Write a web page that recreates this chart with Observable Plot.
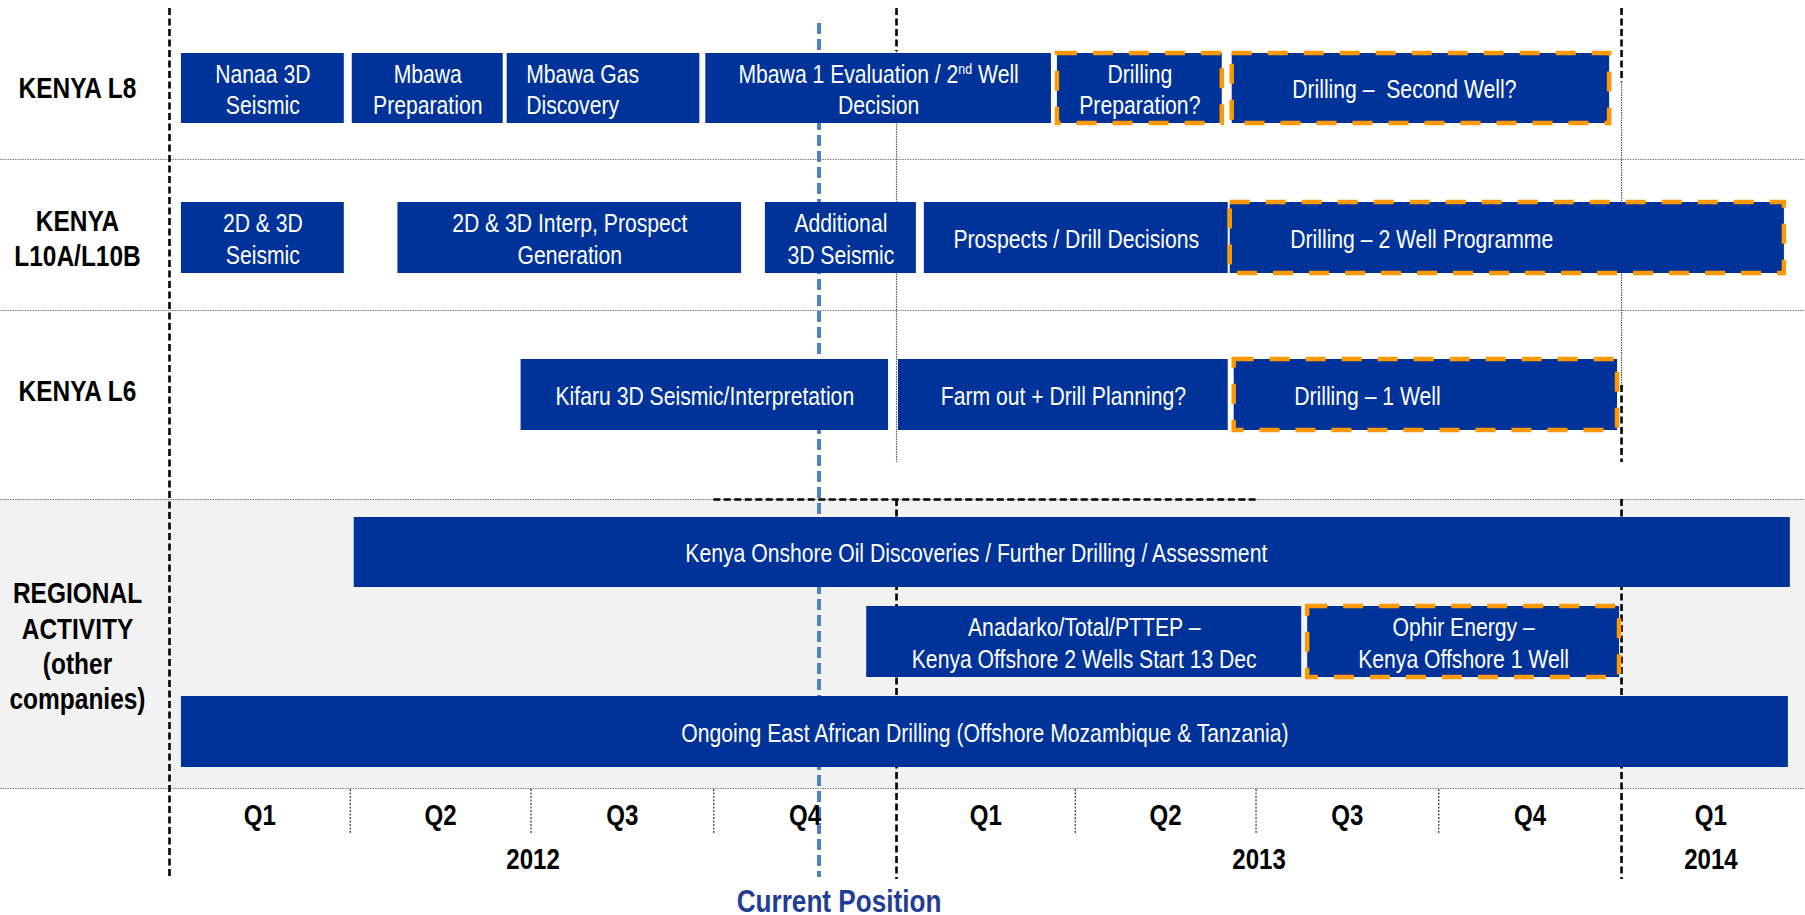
<!DOCTYPE html>
<html><head><meta charset="utf-8">
<script src="https://cdn.jsdelivr.net/npm/d3@7"></script>
<script src="https://cdn.jsdelivr.net/npm/@observablehq/plot@0.6"></script>
<style>
body{margin:0;background:#fff;}
#chart svg{display:block}
#chart svg text{white-space:pre}
</style>
</head><body><div id="chart"></div>
<script>
const FONT = "'Liberation Sans', Arial, sans-serif";
const NARROW = 0.83; // horizontal compression to mimic Arial Narrow

// ---------- data ----------
const rowLabels = ["KENYA L8", "KENYA\nL10A/L10B", "KENYA L6", "REGIONAL\nACTIVITY\n(other\ncompanies)"];
const rowKeys = ["L8", "L10", "L6", "REG"];

// [lane, label, start, end, tentative]
const activities = [
  ["L8", "Nanaa 3D\nSeismic", "2012-01-07", "2012-03-29", false],
  ["L8", "Mbawa\nPreparation", "2012-04-02", "2012-06-17", false],
  ["L8", "Mbawa Gas\nDiscovery", "2012-06-19", "2012-09-24", false],
  ["L8", "Mbawa 1 Evaluation / 2nd Well\nDecision", "2012-09-27", "2013-03-20", false],
  ["L8", "Drilling\nPreparation?", "2013-03-23", "2013-06-14", true],
  ["L8", "Drilling –  Second Well?", "2013-06-19", "2013-12-26", true],
  ["L10", "2D & 3D\nSeismic", "2012-01-07", "2012-03-29", false],
  ["L10", "2D & 3D Interp, Prospect\nGeneration", "2012-04-25", "2012-10-15", false],
  ["L10", "Additional\n3D Seismic", "2012-10-27", "2013-01-11", false],
  ["L10", "Prospects / Drill Decisions", "2013-01-15", "2013-06-17", false],
  ["L10", "Drilling – 2 Well Programme", "2013-06-18", "2014-03-24", true],
  ["L6", "Kifaru 3D Seismic/Interpretation", "2012-06-26", "2012-12-28", false],
  ["L6", "Farm out + Drill Planning?", "2013-01-02", "2013-06-17", false],
  ["L6", "Drilling – 1 Well", "2013-06-20", "2013-12-30", true],
  ["R1", "Kenya Onshore Oil Discoveries / Further Drilling / Assessment", "2012-04-03", "2014-03-27", false],
  ["R2", "Anadarko/Total/PTTEP –\nKenya Offshore 2 Wells Start 13 Dec", "2012-12-17", "2013-07-24", false],
  ["R2", "Ophir Energy –\nKenya Offshore 1 Well", "2013-07-27", "2013-12-31", true],
  ["R3", "Ongoing East African Drilling (Offshore Mozambique & Tanzania)", "2012-01-07", "2014-03-26", false]
];

const quarterLabels = ["Q1", "Q2", "Q3", "Q4", "Q1", "Q2", "Q3", "Q4", "Q1"];
const quarterStarts = ["2012-01-01", "2012-04-01", "2012-07-01", "2012-10-01", "2013-01-01", "2013-04-01", "2013-07-01", "2013-10-01", "2014-01-01"];
const timelineEnd = "2014-04-01";
const yearLabels = ["2012", "2013", "2014"];
const yearStarts = ["2012-01-01", "2013-01-01", "2014-01-01"];
const yearEnds = ["2013-01-01", "2014-01-01", "2014-04-01"];
const currentDate = "2012-11-23";
const currentLabel = "Current Position";
const focusSpan = ["2012-10-01", "2013-07-01"]; // dashed bracket above regional row

// ---------- layout / styling ----------
const laneTop = {L8: 53, L10: 202, L6: 359, R1: 517, R2: 606, R3: 696};
const laneBottom = {L8: 123, L10: 273, L6: 430, R1: 587, R2: 677, R3: 767};
const rowLabelY = {L8: 86, L10: 236.5, L6: 389, REG: 644.5};
const separators = [159, 310, 499, 788];
const regionalBand = {top: 499, bottom: 788};
// label placement exceptions (text anchor and pixel offset); all others centered
const labelPlacement = [
  {labels: ["Mbawa Gas\nDiscovery"], anchor: "start", dx: 19},
  {labels: ["Drilling –  Second Well?", "Drilling – 2 Well Programme", "Drilling – 1 Well"], anchor: "start", dx: 60},
  {labels: ["Kenya Onshore Oil Discoveries / Further Drilling / Assessment"], anchor: "middle", dx: -96}
];

const BLUE = "#003399", ORANGE = "#ff9900";
const parse = d3.utcParse("%Y-%m-%d");

const bars = activities.map(([lane, label, s, e, tentative]) => ({lane, label, start: parse(s), end: parse(e), tentative}));
const rows = rowKeys.map((k, i) => ({key: k, label: rowLabels[i]}));
const qs = quarterStarts.map((s, i) => ({label: quarterLabels[i], start: parse(s), end: parse(quarterStarts[i + 1] ?? timelineEnd)}));
const years = yearLabels.map((y, i) => ({label: y, start: parse(yearStarts[i]), end: parse(yearEnds[i])}));
const mid = (a, b) => new Date((+a + +b) / 2);
const [d2012, d2013, d2014] = yearStarts.map(parse);
const laneMid = d => (laneTop[d.lane] + laneBottom[d.lane]) / 2;
const special = new Set(labelPlacement.flatMap(p => p.labels));

// year divider segments: thick dashed / thin dotted
const dividers = [
  {x: d2012, y1: 8, y2: 879, thick: true},
  {x: d2013, y1: 8, y2: 51, thick: true},
  {x: d2013, y1: 51, y2: 462, thick: false},
  {x: d2013, y1: 499, y2: 879, thick: true},
  {x: d2014, y1: 8, y2: 82, thick: true},
  {x: d2014, y1: 82, y2: 385, thick: false},
  {x: d2014, y1: 385, y2: 462, thick: true},
  {x: d2014, y1: 499, y2: 879, thick: true}
];

const barText = {y: laneMid, text: "label", fill: "white", fontSize: 25.5, lineHeight: 1.22};

const chart = Plot.plot({
  width: 1805, height: 915,
  marginLeft: 0, marginRight: 0, marginTop: 0, marginBottom: 0,
  x: {type: "utc", domain: [parse("2012-01-01"), parse(timelineEnd)], range: [169, 1799.8], axis: null},
  y: {type: "linear", domain: [0, 915], range: [0, 915], axis: null},
  style: {fontFamily: FONT, overflow: "visible", background: "white"},
  marks: [
    Plot.rect([regionalBand], {y1: "top", y2: "bottom", fill: "#f2f2f2"}),
    Plot.ruleY(separators, {stroke: "#7f7f7f", strokeWidth: 1.2, strokeDasharray: "1.5,1"}),
    Plot.ruleY([regionalBand.top], {x1: () => parse(focusSpan[0]), x2: () => parse(focusSpan[1]), stroke: "#000", strokeWidth: 2.5, strokeDasharray: "7,3.5"}),
    Plot.ruleX(dividers.filter(d => !d.thick), {x: "x", y1: "y1", y2: "y2", stroke: "#555", strokeWidth: 1.2, strokeDasharray: "1.5,1"}),
    Plot.ruleX(dividers.filter(d => d.thick), {x: "x", y1: "y1", y2: "y2", stroke: "#000", strokeWidth: 2.6, strokeDasharray: "7,3.5"}),
    Plot.ruleX(qs.filter(q => q.start.getUTCMonth() !== 0), {x: "start", y1: 789, y2: 834, stroke: "#333", strokeWidth: 1.2, strokeDasharray: "2,1.5"}),
    Plot.ruleX([parse(currentDate)], {y1: 23, y2: 877, stroke: "#4f81bd", strokeWidth: 4, strokeDasharray: "11,5"}),
    Plot.rect(bars, {x1: "start", x2: "end", y1: d => laneTop[d.lane], y2: d => laneBottom[d.lane], fill: BLUE}),
    Plot.rect(bars.filter(d => d.tentative), {x1: "start", x2: "end", y1: d => laneTop[d.lane], y2: d => laneBottom[d.lane], fill: "none", stroke: ORANGE, strokeWidth: 4.5, strokeDasharray: "20,16"}),
    Plot.text(bars.filter(d => !special.has(d.label)), {...barText, x: d => mid(d.start, d.end)}),
    ...labelPlacement.map(p => Plot.text(bars.filter(d => p.labels.includes(d.label)), {
      ...barText,
      x: p.anchor === "start" ? "start" : d => mid(d.start, d.end),
      textAnchor: p.anchor, dx: p.dx
    })),
    Plot.text(rows, {frameAnchor: "left", dx: 77, textAnchor: "middle", y: d => rowLabelY[d.key], text: "label", fill: "black", fontWeight: "bold", fontSize: 29.5, lineHeight: 1.2}),
    Plot.text(qs, {x: d => mid(d.start, d.end), y: 815, text: "label", fill: "black", fontWeight: "bold", fontSize: 29}),
    Plot.text(years, {x: d => mid(d.start, d.end), y: 859, text: "label", fill: "black", fontWeight: "bold", fontSize: 29}),
    Plot.text([currentLabel], {x: () => parse(currentDate), dx: 20, y: 901, text: d => d, fill: "#1f3d96", fontWeight: "bold", fontSize: 31.5})
  ]
});
document.getElementById("chart").appendChild(chart);

// superscript "nd"
chart.querySelectorAll("tspan, text").forEach(el => {
  if (el.childElementCount === 0 && el.textContent.includes("2nd Well")) {
    const [a, b] = el.textContent.split("2nd");
    el.textContent = "";
    el.appendChild(document.createTextNode(a + "2"));
    const sup = document.createElementNS("http://www.w3.org/2000/svg", "tspan");
    sup.setAttribute("dy", "-9"); sup.setAttribute("font-size", "15"); sup.textContent = "nd";
    el.appendChild(sup);
    const rest = document.createElementNS("http://www.w3.org/2000/svg", "tspan");
    rest.setAttribute("dy", "9"); rest.textContent = b;
    el.appendChild(rest);
  }
});

// narrow the sans face horizontally around each text's anchor (Arial Narrow look)
chart.querySelectorAll("text").forEach(t => {
  const tr = t.getAttribute("transform") || "";
  const x = parseFloat(t.getAttribute("x") || "0");
  if (x) t.setAttribute("transform", `${tr} translate(${x},0) scale(${NARROW},1) translate(${-x},0)`);
  else t.setAttribute("transform", `${tr} scale(${NARROW},1)`);
});
</script>
</body></html>
